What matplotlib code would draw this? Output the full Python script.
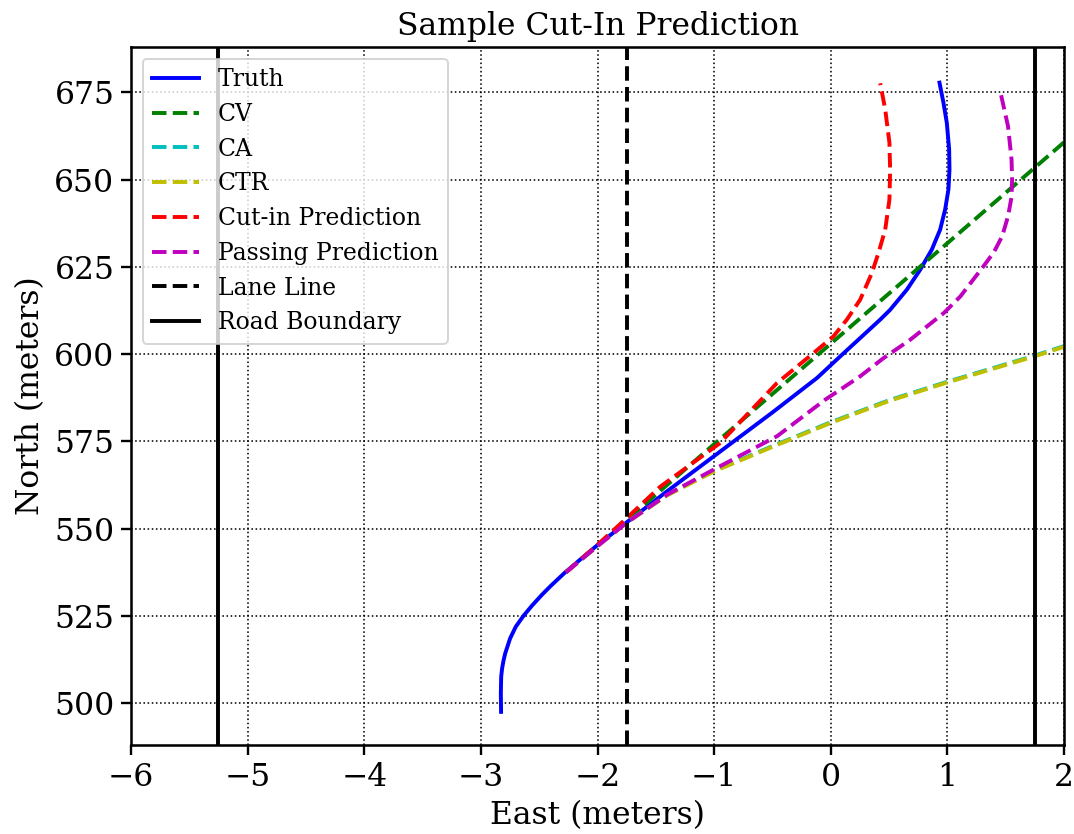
import matplotlib.pyplot as plt

# values (east, north in meters)
truth_east = [-2.827, -2.829, -2.826, -2.818, -2.806, -2.792, -2.75, -2.701, -2.635, -2.563,
              -2.478, -2.407, -2.28, -2.164, -2.0, -1.75, -1.4, -1.0, -0.5, -0.117, 0.05,
              0.424, 0.509, 0.653, 0.767, 0.867, 0.938, 0.981, 1.009, 1.018, 1.015, 0.995,
              0.966, 0.932]
truth_north = [497.5, 502.8, 507.6, 510.0, 512.2, 514.2, 518.5, 521.9, 525.0, 527.9,
               531.0, 533.4, 537.4, 540.7, 545.3, 551.8, 560.8, 570.8, 583.3, 593.2, 598.4,
               609.9, 612.7, 618.5, 624.2, 630.0, 635.7, 641.5, 647.2, 652.9, 658.7, 666.3,
               672.1, 677.8]

cv_east = [-2.27, -1.75, -1.0, 0.0, 1.0, 2.0, 2.4]
cv_north = [537.5, 552.5, 574.2, 603.0, 631.8, 660.7, 672.3]

ctr_east = [-2.27, -2.0, -1.75, -1.4, -1.0, -0.46, 0.0, 0.5, 1.0, 1.5, 1.75, 2.0, 2.4]
ctr_north = [537.5, 545.0, 551.7, 559.6, 566.4, 574.0, 580.3, 586.6, 591.9, 596.9, 599.4, 602.1, 605.8]

ca_east = [-2.27, -2.0, -1.75, -1.4, -1.0, -0.46, 0.0, 0.5, 1.0, 1.5, 1.75, 2.0, 2.4]
ca_north = [537.5, 545.1, 551.8, 559.7, 566.6, 574.2, 580.5, 586.8, 592.1, 597.1, 599.6, 602.3, 606.0]

cutin_east = [-2.27, -2.0, -1.763, -1.463, -0.95, -0.462, -0.148, 0.023, 0.138, 0.252, 0.352,
              0.409, 0.467, 0.503, 0.509, 0.503, 0.467, 0.424]
cutin_north = [537.5, 545.4, 552.6, 562.0, 574.5, 591.7, 600.3, 605.1, 609.9, 615.6, 623.2,
               629.0, 635.7, 644.3, 652.9, 660.6, 670.1, 677.6]

passing_east = [-2.27, -2.0, -1.75, -1.4, -1.0, -0.46, -0.05, 0.25, 0.45, 0.68, 0.97, 1.11,
                1.31, 1.40, 1.47, 1.52, 1.55, 1.555, 1.55, 1.52, 1.45]
passing_north = [537.5, 545.0, 551.7, 559.8, 567.0, 576.5, 586.9, 593.6, 598.8, 604.1, 611.8,
                 616.5, 625.2, 629.3, 633.8, 639.5, 645.0, 650.0, 655.8, 665.3, 675.8]

lane_line = -1.75
road_boundaries = [-5.25, 1.75]


def main():
    plt.rcParams['font.family'] = 'DejaVu Serif'
    fig = plt.figure(figsize=(1074 / 141, 834 / 141), dpi=141)
    ax = fig.add_axes([0.122, 0.1067, 0.8687, 0.8369])

    ax.plot(truth_east, truth_north, 'b-', lw=2, label='Truth')
    ax.plot(cv_east, cv_north, 'g--', lw=2, label='CV')
    ax.plot(ca_east, ca_north, 'c--', lw=2, label='CA')
    ax.plot(ctr_east, ctr_north, 'y--', lw=2, label='CTR')
    ax.plot(cutin_east, cutin_north, 'r--', lw=2, label='Cut-in Prediction')
    ax.plot(passing_east, passing_north, 'm--', lw=2, label='Passing Prediction')
    ax.axvline(lane_line, color='k', ls='--', lw=2, label='Lane Line')
    ax.axvline(road_boundaries[0], color='k', ls='-', lw=2, label='Road Boundary')
    ax.axvline(road_boundaries[1], color='k', ls='-', lw=2)

    ax.set_xlim(-6, 2)
    ax.set_ylim(488, 688)
    ax.grid(True, color='k', ls=':', lw=0.8)
    ax.set_title('Sample Cut-In Prediction', fontsize=16)
    ax.set_xlabel('East (meters)', fontsize=16)
    ax.set_ylabel('North (meters)', fontsize=16)
    ax.tick_params(labelsize=16, width=1.2, length=5)
    for s in ax.spines.values():
        s.set_linewidth(1.3)
    ax.legend(loc='upper left', fontsize=12)

    fig.savefig('out.png', dpi=141)


if __name__ == '__main__':
    main()
